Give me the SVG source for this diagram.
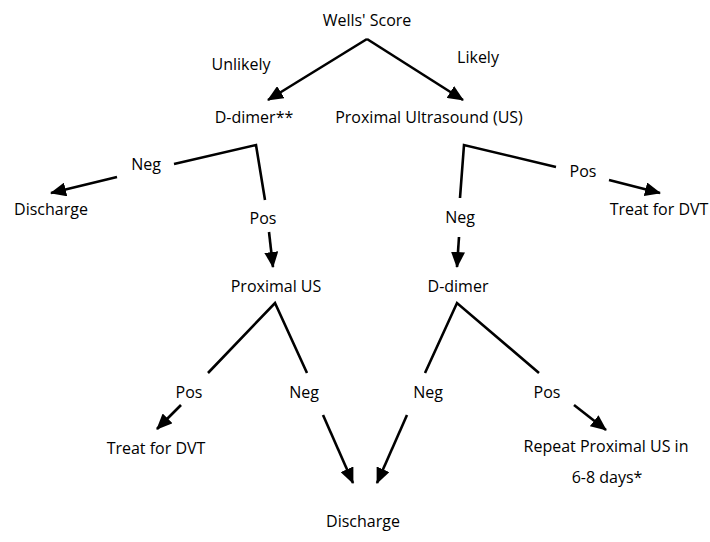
<svg xmlns="http://www.w3.org/2000/svg" width="710" height="542" viewBox="0 0 710 542">
<style>
text{font-family:"Open Sans","Noto Sans","DejaVu Sans",sans-serif;font-size:16px;fill:#000;text-anchor:middle}
.c{stroke:#000;stroke-width:2.6;fill:none;stroke-linejoin:miter}
.a{marker-end:url(#ah)}
</style>
<defs>
<marker id="ah" markerUnits="userSpaceOnUse" markerWidth="16" markerHeight="14" viewBox="0 0 16 14" refX="15" refY="7" orient="auto">
<path d="M0,0 L16,7 L0,14 z" fill="#000"/>
</marker>
</defs>
<rect width="710" height="542" fill="#fff"/>
<g id="connectors">
<path class="c a" d="M367,39 L268,100"/>
<path class="c a" d="M367,39 L463,100"/>
<path class="c" d="M174,164 L256,145 L265,200"/>
<path class="c a" d="M117,177 L51,193"/>
<path class="c a" d="M269,232 L273,267"/>
<path class="c" d="M460,198 L464,145 L556,167"/>
<path class="c a" d="M609,180 L660,193"/>
<path class="c a" d="M459,237 L457,267"/>
<path class="c" d="M208,373 L275,303 L307,373"/>
<path class="c a" d="M181,405 L157,429"/>
<path class="c a" d="M323,415 L353,483"/>
<path class="c" d="M425,373 L457,303 L539,373"/>
<path class="c a" d="M407,415 L377,483"/>
<path class="c a" d="M574,405 L606,430"/>
</g>
<g id="wells"><text x="367" y="26">Wells' Score</text></g>
<g id="lbl-unlikely"><text x="241" y="70">Unlikely</text></g>
<g id="lbl-likely"><text x="478" y="63">Likely</text></g>
<g id="ddimer1"><text x="254" y="123">D-dimer**</text></g>
<g id="pus1"><text x="429" y="123">Proximal Ultrasound (US)</text></g>
<g id="lbl-neg1"><text x="146" y="170">Neg</text></g>
<g id="discharge1"><text x="51" y="215">Discharge</text></g>
<g id="lbl-pos1"><text x="263" y="224">Pos</text></g>
<g id="pus2"><text x="276" y="292">Proximal US</text></g>
<g id="lbl-pos2"><text x="583" y="177">Pos</text></g>
<g id="treat1"><text x="659" y="215">Treat for DVT</text></g>
<g id="lbl-neg2"><text x="460" y="223">Neg</text></g>
<g id="ddimer2"><text x="458" y="292">D-dimer</text></g>
<g id="lbl-pos3"><text x="189" y="398">Pos</text></g>
<g id="lbl-neg3"><text x="304" y="398">Neg</text></g>
<g id="treat2"><text x="156" y="454">Treat for DVT</text></g>
<g id="lbl-neg4"><text x="428" y="398">Neg</text></g>
<g id="lbl-pos4"><text x="547" y="398">Pos</text></g>
<g id="repeat"><text x="606" y="452">Repeat Proximal US in</text><text x="607" y="483">6-8 days*</text></g>
<g id="discharge2"><text x="363" y="527">Discharge</text></g>
</svg>
